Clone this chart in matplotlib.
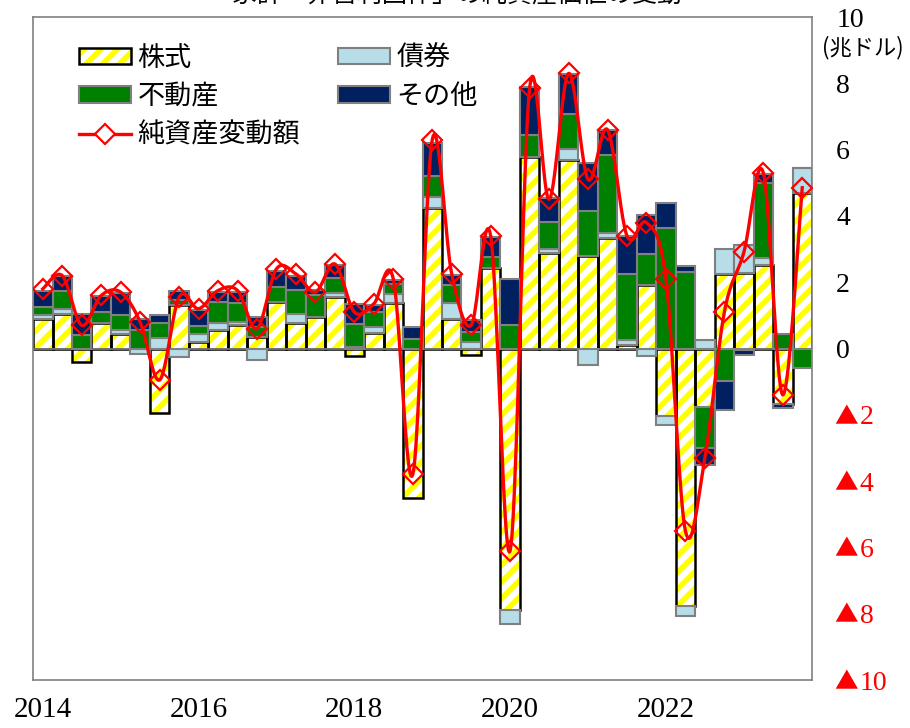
import numpy as np
import matplotlib
matplotlib.use("Agg")
import matplotlib.pyplot as plt
from matplotlib.patches import Patch
from matplotlib.lines import Line2D

plt.rcParams['font.family'] = ['Noto Sans CJK JP', 'DejaVu Sans']
plt.rcParams['hatch.linewidth'] = 4.0

# quarterly changes, 2014Q1 - 2023Q4 (trillion dollars)
quarters = [f"{y}Q{q}" for y in range(2014, 2024) for q in range(1, 5)]
stock = [0.9, 1.05, -0.4, 0.78, 0.44, 0.0, -1.95, 1.3, 0.2, 0.56,
         0.7, 0.35, 1.4, 0.78, 0.94, 1.56, -0.23, 0.48, 1.36, -4.5,
         4.23, 0.88, -0.2, 2.42, -7.9, 5.79, 2.87, 5.7, 2.79, 3.32,
         0.1, 1.92, -2.05, -7.77, -1.75, 2.25, 2.29, 2.52, -1.67, 4.68]
bond = [0.1, 0.15, 0.0, 0.0, 0.12, -0.15, 0.32, -0.25, 0.25, 0.22,
        0.1, -0.35, 0.0, 0.26, 0.0, 0.12, 0.05, 0.18, 0.3, 0.0,
        0.33, 0.48, 0.2, 0.0, -0.4, 0.0, 0.12, 0.33, -0.5, 0.17,
        0.15, -0.23, -0.25, -0.3, 0.25, 0.74, 0.83, 0.2, 0.0, 0.76]
realestate = [0.25, 0.55, 0.4, 0.33, 0.45, 0.55, 0.45, 0.15, 0.23, 0.63,
              0.56, 0.3, 0.45, 0.72, 0.67, 0.44, 0.7, 0.45, 0.3, 0.3,
              0.64, 0.56, 0.3, 0.33, 0.7, 0.65, 0.84, 1.05, 1.37, 2.35,
              2.0, 0.92, 3.63, 2.32, -1.26, -0.97, -0.05, 2.28, 0.44, -0.6]
other = [0.5, 0.45, 0.65, 0.47, 0.67, 0.35, 0.25, 0.3, 0.47, 0.3,
         0.35, 0.3, 0.5, 0.43, 0.15, 0.4, 0.6, 0.2, 0.1, 0.36,
         1.0, 0.3, 0.35, 0.62, 1.4, 1.45, 0.7, 1.2, 1.44, 0.75,
         1.15, 1.2, 0.77, 0.18, -0.5, -0.89, -0.15, 0.26, -0.13, 0.0]
networth = [1.8, 2.2, 0.7, 1.6, 1.7, 0.8, -0.95, 1.55, 1.2, 1.75,
            1.75, 0.6, 2.4, 2.25, 1.7, 2.55, 1.1, 1.35, 2.1, -3.8,
            6.3, 2.25, 0.7, 3.4, -6.1, 7.85, 4.5, 8.3, 5.1, 6.6,
            3.4, 3.8, 2.1, -5.5, -3.3, 1.1, 2.9, 5.3, -1.4, 4.85]

year_labels = ['2014', '2016', '2018', '2020', '2022']
yticks = [-10, -8, -6, -4, -2, 0, 2, 4, 6, 8, 10]

GRAY = '#808080'
LBLUE = '#b7dde8'
GREEN = '#008000'
NAVY = '#002060'
num_font = ['Liberation Serif', 'DejaVu Serif']


def smooth(x, y, n=24):
    # Catmull-Rom style bezier through the points (like a smoothed line)
    x = np.asarray(x, float)
    y = np.asarray(y, float)
    P = np.column_stack([x, y])
    P = np.vstack([P[0], P, P[-1]])
    t = np.linspace(0, 1, n)[:, None]
    segs = []
    for i in range(1, len(P) - 2):
        p0, p1, p2, p3 = P[i - 1], P[i], P[i + 1], P[i + 2]
        c1 = p1 + (p2 - p0) / 6
        c2 = p2 - (p3 - p1) / 6
        seg = ((1 - t) ** 3 * p1 + 3 * (1 - t) ** 2 * t * c1
               + 3 * (1 - t) * t ** 2 * c2 + t ** 3 * p2)
        segs.append(seg if i == 1 else seg[1:])
    s = np.vstack(segs)
    return s[:, 0], s[:, 1]


fig = plt.figure(figsize=(9.1, 7.28), dpi=100)
ax = fig.add_axes([0.0363, 0.0659, 0.8560, 0.9107])

x = np.arange(len(quarters))
pos = np.zeros(len(x))
neg = np.zeros(len(x))
series = [(stock, None), (bond, LBLUE), (realestate, GREEN), (other, NAVY)]
for vals, color in series:
    v = np.asarray(vals, float)
    bottom = np.where(v >= 0, pos, neg)
    if color is None:
        ax.bar(x, v, 1.0, bottom=bottom, color='white', edgecolor='yellow',
               hatch='//', linewidth=0, zorder=2)
        ax.bar(x, v, 1.0, bottom=bottom, fill=False, edgecolor='black',
               linewidth=1.8, zorder=2.1)
    else:
        ax.bar(x, v, 1.0, bottom=bottom, color=color, edgecolor=GRAY,
               linewidth=1.5, zorder=2.2)
    pos = pos + np.where(v >= 0, v, 0)
    neg = neg + np.where(v < 0, v, 0)

ax.axhline(0, color=GRAY, lw=1.2, zorder=2.5)

sx, sy = smooth(x, networth)
ax.plot(sx, sy, color='red', lw=2.4, zorder=3)
ax.plot(x, networth, ls='none', marker='D', ms=10, mfc='none', mec='red',
        mew=1.6, zorder=4)

ax.set_xlim(-0.5, len(x) - 0.5)
ax.set_ylim(-10, 10)
ax.set_xticks(x[::8])
ax.set_xticklabels(year_labels, family=num_font, fontsize=21)
ax.set_yticks([])
ax.tick_params(axis='both', length=0)
ax.tick_params(axis='x', pad=12)
for sp in ax.spines.values():
    sp.set_color(GRAY)
    sp.set_linewidth(1.2)

# right-hand value labels, negatives written with a red triangle
ytr = ax.get_yaxis_transform()
for t in yticks:
    if t < 0:
        ax.text(1.029, t, '▲', transform=ytr, ha='left',
                va='center_baseline', color='red', fontsize=17,
                clip_on=False)
        ax.text(1.061, t, str(-t), transform=ytr, ha='left',
                va='center_baseline', color='red', family=num_font,
                fontsize=20, clip_on=False)
    else:
        ax.text(1.031, t, str(t), transform=ytr, ha='left',
                va='center_baseline', color='black', family=num_font,
                fontsize=20, clip_on=False)

fig.text(0.948, 0.934, '(兆ドル)', ha='center', va='center', fontsize=16)
fig.text(0.489, 1.008, '「家計・非営利団体」の純資産価値の変動', ha='center',
         va='center', fontsize=18)

# legend
h_stock = (Patch(facecolor='white', edgecolor='yellow', hatch='//', lw=0),
           Patch(fill=False, edgecolor='black', lw=1.8))
h_bond = Patch(facecolor=LBLUE, edgecolor=GRAY, lw=1.5)
h_re = Patch(facecolor=GREEN, edgecolor=GRAY, lw=1.5)
h_other = Patch(facecolor=NAVY, edgecolor=GRAY, lw=1.5)
h_net = Line2D([], [], color='red', lw=2.4, marker='D', ms=10, mfc='white',
               mec='red', mew=1.6)
ax.legend([h_stock, h_re, h_net, h_bond, h_other],
          ['株式', '不動産', '純資産変動額', '債券', 'その他'],
          ncol=2, loc='upper left', bbox_to_anchor=(0.028, 0.995),
          frameon=False, fontsize=19.5, handlelength=1.9, handleheight=0.55,
          handletextpad=0.25, labelspacing=0.42, columnspacing=1.4)

fig.savefig('out.png', dpi=100)
